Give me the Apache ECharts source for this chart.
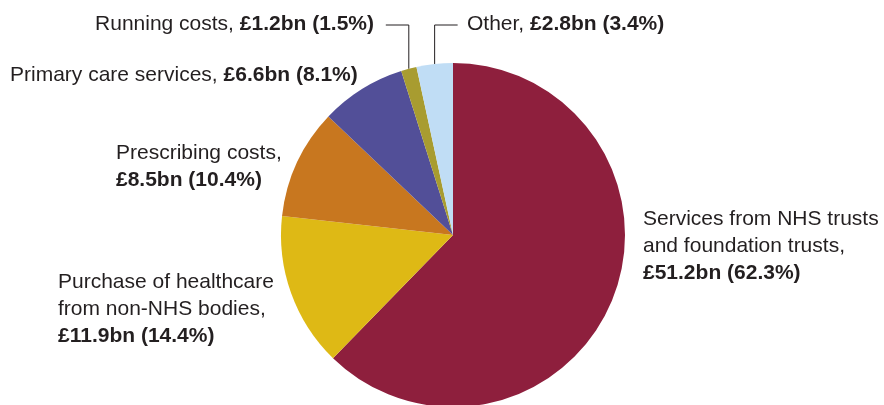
<!DOCTYPE html>
<html>
<head>
<meta charset="utf-8">
<script src="https://cdn.jsdelivr.net/npm/echarts@6/dist/echarts.min.js"></script>
<style>
html,body{margin:0;padding:0;background:#fff;}
#c{width:884px;height:405px;}
</style>
</head>
<body>
<div id="c"></div>
<script>
// Data
var names = [
  'Services from NHS trusts\nand foundation trusts,',
  'Purchase of healthcare\nfrom non-NHS bodies,',
  'Prescribing costs,',
  'Primary care services,',
  'Running costs,',
  'Other,'
];
var valuesBn = [51.2, 11.9, 8.5, 6.6, 1.2, 2.8];
var percents = [62.3, 14.4, 10.4, 8.1, 1.5, 3.4];
var colors = ['#8E1F3D', '#DEB915', '#C8771F', '#524F98', '#A89C30', '#C0DDF5'];

// Label placement (layout only)
var labelPos = [
  {x: 643, y: 246, align: 'left', sep: '\n'},
  {x: 58, y: 309, align: 'left', sep: '\n'},
  {x: 116, y: 167, align: 'left', sep: '\n'},
  {x: 10, y: 75, align: 'left', sep: ' '},
  {x: 374, y: 24, align: 'right', sep: ' ', line: {y: 25, dx: -23}},
  {x: 467, y: 24, align: 'left', sep: ' ', line: {y: 25, dx: 23}}
];

var FONT = '"Liberation Sans", Arial, Helvetica, sans-serif';
var TXT = '#231F20';

var data = names.map(function (n, i) {
  return {
    name: n,
    value: valuesBn[i],
    itemStyle: {color: colors[i]},
    labelLine: {show: !!labelPos[i].line}
  };
});

var chart = echarts.init(document.getElementById('c'), null, {renderer: 'canvas'});
chart.setOption({
  animation: false,
  series: [{
    type: 'pie',
    center: [453, 235],
    radius: [0, 172],
    startAngle: 90,
    clockwise: true,
    avoidLabelOverlap: false,
    data: data,
    itemStyle: {borderWidth: 0},
    emphasis: {disabled: true},
    label: {
      show: true,
      position: 'outside',
      color: TXT,
      fontFamily: FONT,
      fontSize: 21,
      lineHeight: 27,
      formatter: function (p) {
        var i = p.dataIndex;
        return p.name + labelPos[i].sep + '{b|£' + valuesBn[i].toFixed(1) + 'bn (' + percents[i].toFixed(1) + '%)}';
      },
      rich: {
        b: {fontWeight: 'bold', color: TXT, fontFamily: FONT, fontSize: 21, lineHeight: 27}
      }
    },
    labelLine: {
      show: true,
      lineStyle: {color: TXT, width: 1}
    },
    labelLayout: function (params) {
      var lp = labelPos[params.dataIndex];
      var res = {x: lp.x, y: lp.y, align: lp.align, verticalAlign: 'middle'};
      if (lp.line && params.labelLinePoints && params.labelLinePoints.length) {
        var s = params.labelLinePoints[0];
        res.labelLinePoints = [[s[0], s[1]], [s[0], lp.line.y], [s[0] + lp.line.dx, lp.line.y]];
      }
      return res;
    }
  }]
});
</script>
</body>
</html>
